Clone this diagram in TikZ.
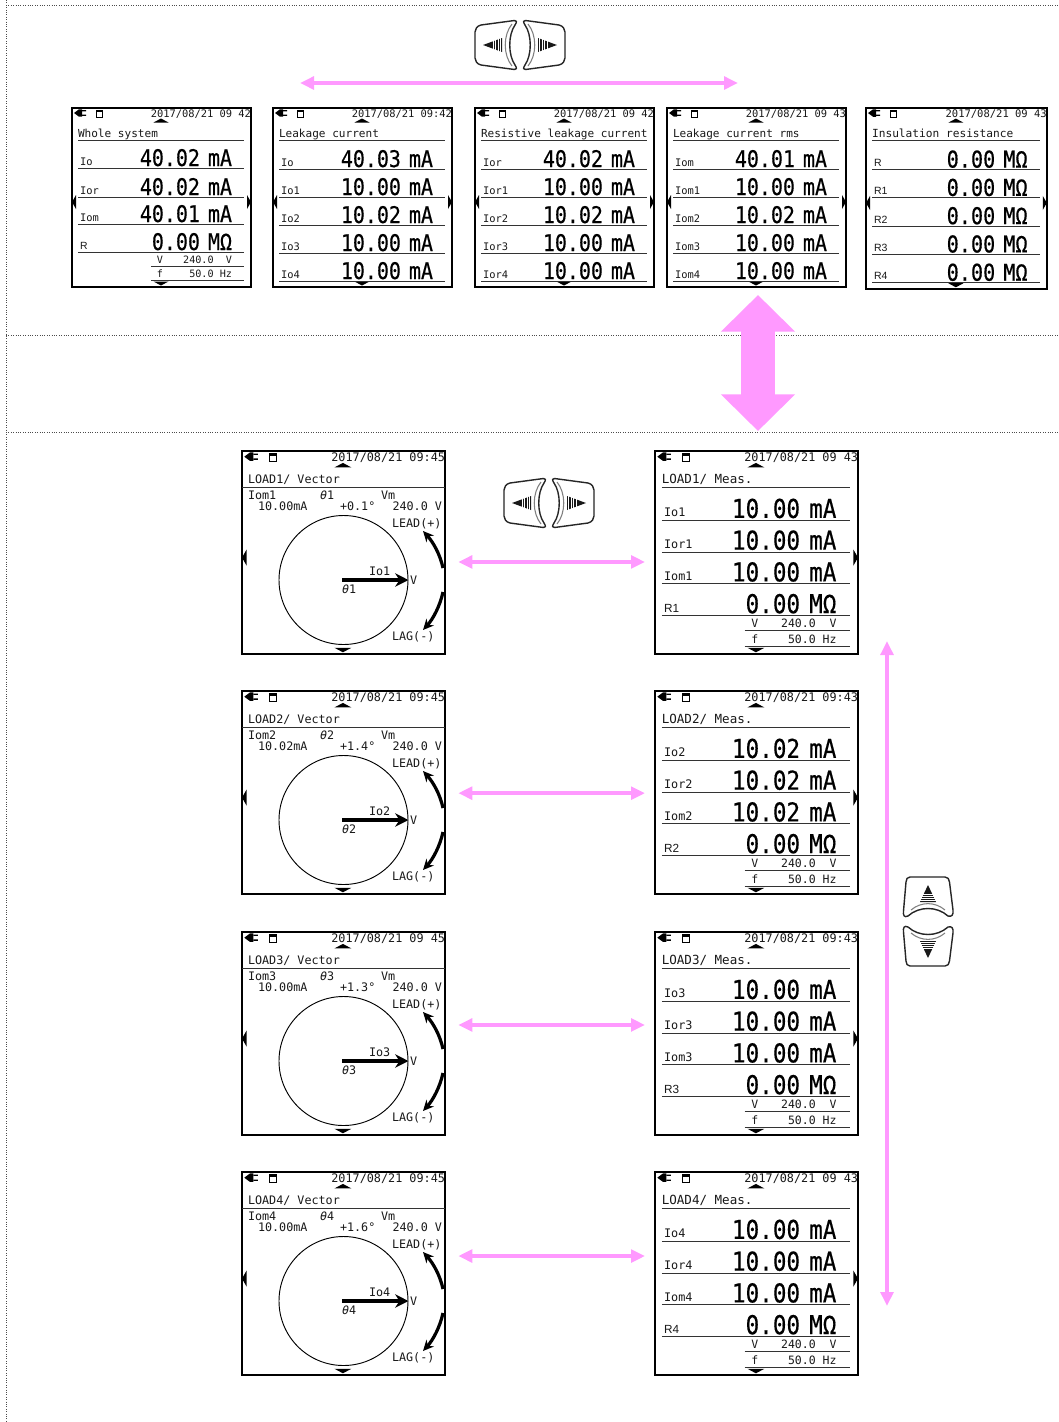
\documentclass[tikz,border=0pt]{standalone}
\usepackage{graphicx}
\usepackage{fontspec}
\setmainfont{DejaVu Sans Mono}
\setsansfont{Liberation Sans}
\newfontfamily\bigfam[FakeBold=0.5]{DejaVu Sans Mono}
\usetikzlibrary{arrows.meta}
\definecolor{pinkline}{HTML}{FF99FF}
\newcommand{\fs}[1]{\fontsize{#1pt}{#1pt}\selectfont}
\newcommand{\bigval}[1]{\scalebox{.87}[1]{#1}}
\newcommand{\gp}{\ \kern-.2em}
\tikzset{
  panel/.style={draw,line width=1.1pt,anchor=north west,inner sep=0pt,outer sep=0pt,minimum width=134.25pt,minimum height=134.25pt},
  txt/.style={inner sep=0pt,outer sep=0pt,text=black!90},
  stampf/.style={txt,font=\fs{7.8}},
  titlef/.style={txt,font=\fs{8.3}},
  labf/.style={txt,font=\fs{7.8}},
  bigf/.style={txt,font=\bigfam\fs{17.2},text=black},
  subf/.style={txt,font=\fs{7.6}},
  vecf/.style={txt,font=\fs{8.8}},
  rulel/.style={line width=.6pt,black!80},
  pinkarrow/.style={draw=pinkline,line width=2.7pt,{Triangle[length=10.5pt,width=9.5pt,fill=pinkline]}-{Triangle[length=10.5pt,width=9.5pt,fill=pinkline]}},
  bigarrow/.style={draw=pinkline,line width=26pt,{Triangle[length=27.5pt,width=54pt,fill=pinkline]}-{Triangle[length=27.5pt,width=54pt,fill=pinkline]}},
  dotline/.style={line width=.45pt,black!70,dash pattern=on .8pt off 1pt},
  keyline/.style={line width=1.05pt,black!85,line join=round},
  keyarc/.style={line width=.8pt,black!50},
  keystripe/.style={line width=.45pt,white},
  vecarrow/.style={line width=2.6pt,-{Stealth[length=10pt,width=10pt]}},
  swingarrow/.style={line width=2.4pt,-{Stealth[length=8pt,width=7.5pt]}}
}
% screen frame: (#1) time stamp
\newcommand{\screenbase}[1]{%
  \node[panel] (f) at (0,0) {};
  \fill (2,5) -- (7,1.3) -- (10,1.3) -- (10,8.7) -- (7,8.7) -- cycle;
  \fill (10,2.2) rectangle (14,3.4) (10,6.6) rectangle (14,7.8);
  \draw[line width=.7pt] (24,3) rectangle (30.5,9.5);
  \fill (24,2) rectangle (30.5,4);
  \node[stampf,anchor=base east] (stamp) at (179,9.5) {#1};
  \fill (81.5,14.5) -- (89,10.5) -- (96.5,14.5) -- cycle;
  \fill (81.5,173.5) -- (96.5,173.5) -- (89,177.5) -- cycle;
}
\newcommand{\lefttri}{\fill (0,94) -- (4,87) -- (4,101) -- cycle;}
\newcommand{\righttri}{\fill (179,94) -- (175,87) -- (175,101) -- cycle;}
% one measured row: id, rule y, label, value
\newcommand{\mrow}[4]{%
  \node[labf,anchor=base west] (l#1) at (8,#2-3) {#3};
  \node[bigf,anchor=base east] (v#1) at (160,#2-2) {\bigval{#4}};
  \draw[rulel] (6,#2) -- (172,#2);
}
% V and f rows
\newcommand{\vfrows}{%
  \node[subf,anchor=base] (vl) at (88,155.5) {V};
  \node[subf,anchor=base east] (vv) at (160,155.5) {240.0\ \ V};
  \draw[rulel] (79,158) -- (172,158);
  \node[subf,anchor=base] (fl) at (88,169.5) {f};
  \node[subf,anchor=base east] (fv) at (160,169.5) {50.0 Hz};
  \draw[rulel] (79,172) -- (172,172);
}
\newcommand{\tophead}[6]{%
  \begin{scope}[shift={(#2,#3)},scale=#4,transform shape,name prefix=#1-]
  \screenbase{#5}
  \node[titlef,anchor=base west] (title) at (6,29) {#6};
  \draw[rulel] (6,32) -- (172,32);
}
% measure panel on lower block: name,y,stamp,load,value
\newcommand{\meas}[5]{%
  \tophead{#1}{655}{#2}{1.134}{#3}{LOAD#4/ Meas.}
  \righttri
  \mrow{a}{61}{Io#4}{#5\gp mA}
  \mrow{b}{89}{Ior#4}{#5\gp mA}
  \mrow{c}{117}{Iom#4}{#5\gp mA}
  \mrow{d}{145}{\sffamily R#4}{0.00\gp MΩ}
  \vfrows
  \end{scope}
}
% vector panel: name,y,stamp,load,current,angle
\newcommand{\vect}[6]{%
  \begin{scope}[shift={(242,#2)},scale=1.134,transform shape,name prefix=#1-]
  \screenbase{#3}
  \lefttri
  \end{scope}
  \begin{scope}[shift={(242,#2)},name prefix=#1-]
  \node[vecf,anchor=base west] (title) at (6,32.5) {LOAD#4/ Vector};
  \draw[rulel] (0,36) -- (203,36);
  \node[vecf,anchor=base west] (iom) at (6,48.5) {Iom#4};
  \node[vecf,anchor=base west] (th) at (78,48.5) {{\itshape θ}#4};
  \node[vecf,anchor=base west] (vm) at (139,48.5) {Vm};
  \node[vecf,anchor=base west] (cur) at (16,59.5) {#5mA};
  \node[vecf,anchor=base west] (ang) at (98,59.5) {#6°};
  \node[vecf,anchor=base east] (vv) at (200,59.5) {240.0 V};
  \node[vecf,anchor=base west] (lead) at (150,76.5) {LEAD(+)};
  \node[vecf,anchor=base west] (lag) at (150,189.5) {LAG(-)};
  \draw[line width=.7pt] (101.5,129) circle [radius=64.5];
  \draw[vecarrow] (100,129) -- (166.5,129);
  \node[vecf,anchor=base west] (io) at (127,124) {Io#4};
  \node[vecf,anchor=base west] (vv2) at (168,133) {V};
  \node[vecf,anchor=base west] (th2) at (100,142) {{\itshape θ}#4};
  \draw[swingarrow] (201,117) .. controls (198,103) and (191,91) .. (181,80);
  \draw[swingarrow] (201,141) .. controls (198,155) and (191,168) .. (181,179);
  \end{scope}
}
% half of the left/right key pair, relative to the pair's top left corner
\newcommand{\lrhalf}{%
  \draw[keyline] (39.5,0.5) .. controls (42,0) and (42,2) .. (40,5)
     .. controls (33,15) and (33,35) .. (40,45)
     .. controls (42,48) and (42,50) .. (39.5,49.5)
     -- (6,45) .. controls (2,44) and (0,41) .. (0,38) -- (0,12)
     .. controls (0,9) and (2,6) .. (6,5) -- cycle;
  \draw[keyarc] (37,4) .. controls (28,15) and (28,35) .. (37,46);
  \fill[black!90] (8,25) -- (27,18) -- (27,32) -- cycle;
  \draw[keystripe] (18,15) -- (18,35) (20.5,15) -- (20.5,35) (23,15) -- (23,35) (25.3,15) -- (25.3,35);
}
\newcommand{\lrkeys}[3]{%
  \coordinate (#1) at (#2,#3);
  \begin{scope}[shift={(#2,#3)}] \lrhalf \end{scope}
  \begin{scope}[shift={(#2+90,#3)},xscale=-1] \lrhalf \end{scope}
}
\newcommand{\udhalf}{%
  \draw[keyline] (7,0) -- (42,0) .. controls (45,0) and (46,2) .. (46.5,5)
     -- (50,33) .. controls (50.5,38) and (49,40) .. (45,39)
     .. controls (34,29) and (16,29) .. (5,39)
     .. controls (1,41) and (0,38) .. (0.5,34)
     -- (3,5) .. controls (3.5,2) and (4,0) .. (7,0) -- cycle;
  \draw[keyarc] (8,33) .. controls (18,24.5) and (32,24.5) .. (42,33);
  \fill[black!90] (25,8) -- (17,25) -- (33,25) -- cycle;
  \draw[keystripe] (15,17.5) -- (35,17.5) (15,19.7) -- (35,19.7) (15,21.7) -- (35,21.7) (15,23.5) -- (35,23.5);
}
\newcommand{\udkeys}[3]{%
  \coordinate (#1) at (#2,#3);
  \begin{scope}[shift={(#2,#3)}] \udhalf \end{scope}
  \begin{scope}[shift={(#2,#3+89)},yscale=-1] \udhalf \end{scope}
}
\begin{document}
\begin{tikzpicture}[x=0.75pt,y=-0.75pt]
\useasboundingbox (0,0) rectangle (1058,1422);
\fill[white] (0,0) rectangle (1058,1422);
% dotted separators
\coordinate (dt) at (6,0); \coordinate (db) at (6,1422);
\coordinate (d1) at (6,5); \coordinate (d1r) at (1058,5);
\coordinate (d2) at (6,335); \coordinate (d2r) at (1058,335);
\coordinate (d3) at (6,432); \coordinate (d3r) at (1058,432);
\draw[dotline] (dt) -- (db);
\draw[dotline] (d1) -- (d1r);
\draw[dotline] (d2) -- (d2r);
\draw[dotline] (d3) -- (d3r);
% key icons
\lrkeys{keyA}{475}{20}
\lrkeys{keyB}{504}{478}
\udkeys{keyC}{903}{877}
% top panels
\tophead{t1}{72}{108}{1}{2017/08/21 09 42}{Whole system}
  \lefttri \righttri
  \mrow{a}{60}{Io}{40.02\gp mA}
  \mrow{b}{89}{Ior}{40.02\gp mA}
  \mrow{c}{116}{Iom}{40.01\gp mA}
  \mrow{d}{144}{\sffamily R}{0.00\gp MΩ}
  \vfrows
\end{scope}
\tophead{t2}{273}{108}{1}{2017/08/21 09:42}{Leakage current}
  \lefttri \righttri
  \mrow{a}{61}{Io}{40.03\gp mA}
  \mrow{b}{89}{Io1}{10.00\gp mA}
  \mrow{c}{117}{Io2}{10.02\gp mA}
  \mrow{d}{145}{Io3}{10.00\gp mA}
  \mrow{e}{173}{Io4}{10.00\gp mA}
\end{scope}
\tophead{t3}{475}{108}{1}{2017/08/21 09 42}{Resistive leakage current}
  \lefttri \righttri
  \mrow{a}{61}{Ior}{40.02\gp mA}
  \mrow{b}{89}{Ior1}{10.00\gp mA}
  \mrow{c}{117}{Ior2}{10.02\gp mA}
  \mrow{d}{145}{Ior3}{10.00\gp mA}
  \mrow{e}{173}{Ior4}{10.00\gp mA}
\end{scope}
\tophead{t4}{667}{108}{1}{2017/08/21 09 43}{Leakage current rms}
  \lefttri \righttri
  \mrow{a}{61}{Iom}{40.01\gp mA}
  \mrow{b}{89}{Iom1}{10.00\gp mA}
  \mrow{c}{117}{Iom2}{10.02\gp mA}
  \mrow{d}{145}{Iom3}{10.00\gp mA}
  \mrow{e}{173}{Iom4}{10.00\gp mA}
\end{scope}
\tophead{t5}{866}{108}{1.01}{2017/08/21 09 43}{Insulation resistance}
  \lefttri \righttri
  \mrow{a}{61}{\sffamily R}{0.00\gp MΩ}
  \mrow{b}{89}{\sffamily R1}{0.00\gp MΩ}
  \mrow{c}{117}{\sffamily R2}{0.00\gp MΩ}
  \mrow{d}{145}{\sffamily R3}{0.00\gp MΩ}
  \mrow{e}{173}{\sffamily R4}{0.00\gp MΩ}
\end{scope}
% lower panels
\vect{v1}{451}{2017/08/21 09:45}{1}{10.00}{+0.1}
\vect{v2}{691}{2017/08/21 09:45}{2}{10.02}{+1.4}
\vect{v3}{932}{2017/08/21 09 45}{3}{10.00}{+1.3}
\vect{v4}{1172}{2017/08/21 09:45}{4}{10.00}{+1.6}
\meas{m1}{451}{2017/08/21 09 43}{1}{10.00}
\meas{m2}{691}{2017/08/21 09:43}{2}{10.02}
\meas{m3}{932}{2017/08/21 09:43}{3}{10.00}
\meas{m4}{1172}{2017/08/21 09 43}{4}{10.00}
% pink connectors
\coordinate (topL) at (300,83); \coordinate (topR) at (738,83);
\coordinate (sideU) at (887,641); \coordinate (sideD) at (887,1306);
\coordinate (bigU) at (758,295); \coordinate (bigD) at (758,431);
\draw[pinkarrow] (topL) -- (topR);
\draw[pinkarrow] (sideU) -- (sideD);
\draw[bigarrow] (bigU) -- (bigD);
\draw[pinkarrow,shorten <=10pt,shorten >=7.5pt] ([yshift=-7.1pt]v1-f.east) -- ([yshift=-7.1pt]m1-f.west);
\draw[pinkarrow,shorten <=10pt,shorten >=7.5pt] ([yshift=-.5pt]v2-f.east) -- ([yshift=-.5pt]m2-f.west);
\draw[pinkarrow,shorten <=10pt,shorten >=7.5pt] ([yshift=6.4pt]v3-f.east) -- ([yshift=6.4pt]m3-f.west);
\draw[pinkarrow,shorten <=10pt,shorten >=7.5pt] ([yshift=13.1pt]v4-f.east) -- ([yshift=13.1pt]m4-f.west);
\end{tikzpicture}
\end{document}
